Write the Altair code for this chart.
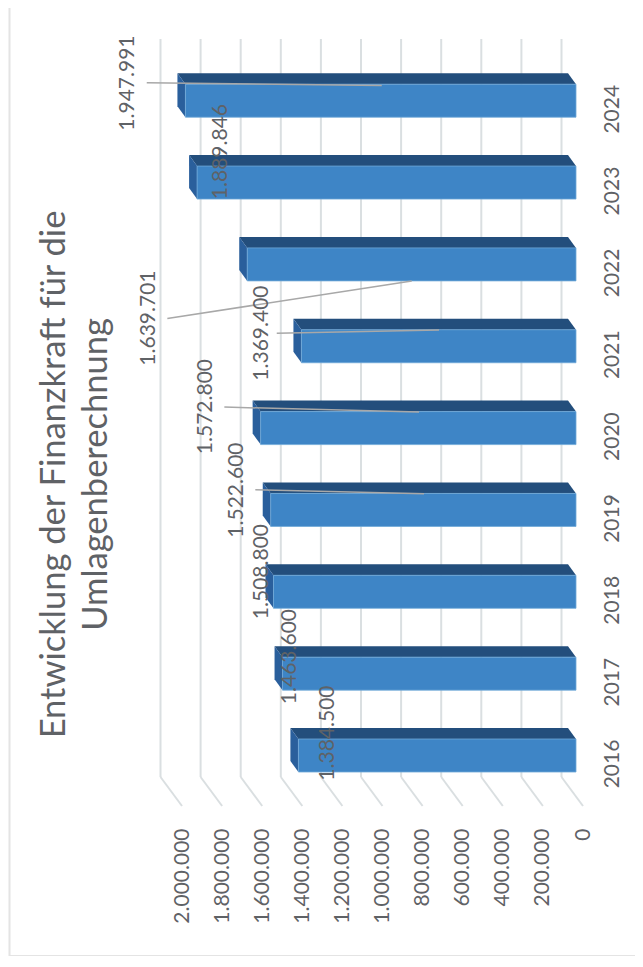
import altair as alt
import pandas as pd

years = [2016, 2017, 2018, 2019, 2020, 2021, 2022, 2023, 2024]
values = [1384500, 1463600, 1508800, 1522600, 1572800, 1369400, 1639701, 1889846, 1947991]
labels = ["1.384.500", "1.463.600", "1.508.800", "1.522.600", "1.572.800",
          "1.369.400", "1.639.701", "1.889.846", "1.947.991"]
grid_values = [0, 200000, 400000, 600000, 800000, 1000000, 1200000, 1400000, 1600000, 1800000, 2000000]
title_lines = ["Entwicklung der Finanzkraft für die", "Umlagenberechnung"]

# layout (pixels) -------------------------------------------------------
PX_PER_UNIT = 200.5 / 1e6
PX_PER_YEAR = 81.85
BAR_H = 33
BAR_FRONT = 7        # front face of the bars, behind the floor's front edge
DEPTH_X, DEPTH_Y = 8, 11
WALL_X, WALL_Y = 21.5, 29
PLOT_W, PLOT_H = 441.1, 767
X_MAX = PLOT_W / PX_PER_UNIT
Y_MIN = 2016 - (806 - 755.5) / PX_PER_YEAR
Y_MAX = Y_MIN + PLOT_H / PX_PER_YEAR

label_offsets = {2016: (29.3, -22.4), 2017: (7.4, -17.1), 2018: (-11.5, -20.2),
                 2019: (-33.7, -19.9), 2020: (-54.6, -21.5), 2021: (-39.4, -13.2),
                 2022: (-98.2, 53.7), 2023: (23.9, -31), 2024: (-57.4, -17.6)}
leader_offsets = {2024: ((-38.7, -17.9), (196.3, -15.3)),
                  2022: ((-79.9, 54), (164.5, 16.7)),
                  2021: ((-24.7, -12.9), (137.6, -16.2)),
                  2020: ((-36.3, -21), (158.4, -16)),
                  2019: ((-15.4, -20.2), (153.3, -16.2))}

FRONT, TOP, SIDE = "#3E85C6", "#234E7C", "#2A5F9C"
EDGE = "#6FA8D8"
GRID = "#DADFE1"
TEXT = "#5F6266"
LEADER = "#A8A8A8"
FONT = "Lato"


def dx(px):   # a shift to the left in pixels, in value units
    return px / PX_PER_UNIT


def dy(px):   # a shift upwards in pixels, in year units
    return px / PX_PER_YEAR


xs = alt.Scale(domain=[0, X_MAX], reverse=True)
ys = alt.Scale(domain=[Y_MIN, Y_MAX], zero=False, nice=False)
x_axis = alt.Axis(values=grid_values, labelExpr="replace(format(datum.value, ','), /,/g, '.')",
                  labelAngle=270, labelAlign="right", labelBaseline="middle",
                  labelFont=FONT, labelFontSize=21, labelColor=TEXT, labelPadding=22,
                  ticks=False, domain=False, grid=False, labelOverlap=False, title=None)
y_axis = alt.Axis(values=years, format="d", orient="right",
                  labelAngle=270, labelAlign="center", labelBaseline="middle",
                  labelFont=FONT, labelFontSize=21, labelColor=TEXT, labelPadding=29,
                  labelOffset=8, ticks=False, domain=False, grid=False, labelOverlap=False, title=None)
X = lambda f="x": alt.X(f"{f}:Q", scale=xs, axis=x_axis)
Y = lambda f="y": alt.Y(f"{f}:Q", scale=ys, axis=y_axis, stack=None)

# gridlines: back wall + floor -------------------------------------------
wall, floor = [], []
for g in grid_values:
    wall.append({"x": g + dx(WALL_X), "x2": g + dx(WALL_X),
                 "y": Y_MIN + dy(WALL_Y), "y2": Y_MAX})
    floor.append({"x": g + dx(WALL_X), "x2": g, "y": Y_MIN + dy(WALL_Y), "y2": Y_MIN})

grid = alt.Chart(pd.DataFrame(wall + floor)).mark_rule(color=GRID, strokeWidth=2).encode(
    x=X(), x2="x2:Q", y=Y(), y2="y2:Q")

# 3-D bars ---------------------------------------------------------------
half = dy(BAR_H / 2)
front_x = dx(BAR_FRONT)
back_x = dx(BAR_FRONT + DEPTH_X)
top_rows, side_rows, front_rows = [], [], []
for yr, v in zip(years, values):
    yt, yb = yr + half, yr - half
    ybk = yt + dy(DEPTH_Y)
    top_rows += [
        {"year": yr, "x": front_x, "y": yt, "y2": yt},
        {"year": yr, "x": back_x, "y": ybk, "y2": yt},
        {"year": yr, "x": v + front_x, "y": ybk, "y2": yt},
        {"year": yr, "x": v + back_x, "y": ybk, "y2": ybk},
    ]
    side_rows += [
        {"year": yr, "x": v + front_x, "y": yt, "y2": yb},
        {"year": yr, "x": v + back_x, "y": ybk, "y2": yb + dy(DEPTH_Y)},
    ]
    front_rows.append({"year": yr, "x": front_x, "x2": v + front_x, "y": yt, "y2": yb})

top = alt.Chart(pd.DataFrame(top_rows)).mark_area(color=TOP, interpolate="linear").encode(
    x=X(), y=Y(), y2="y2:Q", detail="year:O")
side = alt.Chart(pd.DataFrame(side_rows)).mark_area(color=SIDE, interpolate="linear").encode(
    x=X(), y=Y(), y2="y2:Q", detail="year:O")
front = alt.Chart(pd.DataFrame(front_rows)).mark_rect(
    color=FRONT, stroke=EDGE, strokeWidth=0.8).encode(x=X(), x2="x2:Q", y=Y(), y2="y2:Q")

# leader lines and data labels ------------------------------------------
tip = dict(zip(years, values))
leader_rows = []
for yr, (a, b) in leader_offsets.items():
    leader_rows.append({"x": tip[yr] + front_x - dx(a[0]), "x2": tip[yr] + front_x - dx(b[0]),
                        "y": yr - dy(a[1]), "y2": yr - dy(b[1])})
leaders = alt.Chart(pd.DataFrame(leader_rows)).mark_rule(color=LEADER, strokeWidth=1.5).encode(
    x=X(), x2="x2:Q", y=Y(), y2="y2:Q")

label_rows = [{"x": v + front_x - dx(label_offsets[yr][0]), "y": yr - dy(label_offsets[yr][1]), "text": t}
              for yr, v, t in zip(years, values, labels)]
texts = alt.Chart(pd.DataFrame(label_rows)).mark_text(
    angle=270, align="center", baseline="middle", font=FONT, fontSize=21, color=TEXT
).encode(x=X(), y=Y(), text="text:N")

# frame -------------------------------------------------------------------
frame_left = alt.Chart(pd.DataFrame({"k": [0]})).mark_rule(color="#E4E4E4", strokeWidth=2).encode(
    x=alt.value(-132.4), y=alt.value(-31), y2=alt.value(917))
frame_bottom = alt.Chart(pd.DataFrame({"k": [0]})).mark_rule(color="#E4E4E4", strokeWidth=2).encode(
    x=alt.value(-132.4), x2=alt.value(493.1), y=alt.value(917))

chart = alt.layer(frame_left, frame_bottom, grid, top, side, front, leaders, texts).properties(
    width=PLOT_W, height=PLOT_H,
    padding={"left": 133.9, "top": 31, "right": 52, "bottom": 150},
    autosize=alt.AutoSizeParams(type="none"),
    background="white",
    title=alt.TitleParams(text=title_lines, orient="left", anchor="middle", font=FONT, fontSize=34.5,
                          fontWeight="normal", color=TEXT, lineHeight=42, offset=-106, dx=-52),
).configure_view(stroke=None)

chart.save("out.html", embed_options={"renderer": "svg", "actions": False})
